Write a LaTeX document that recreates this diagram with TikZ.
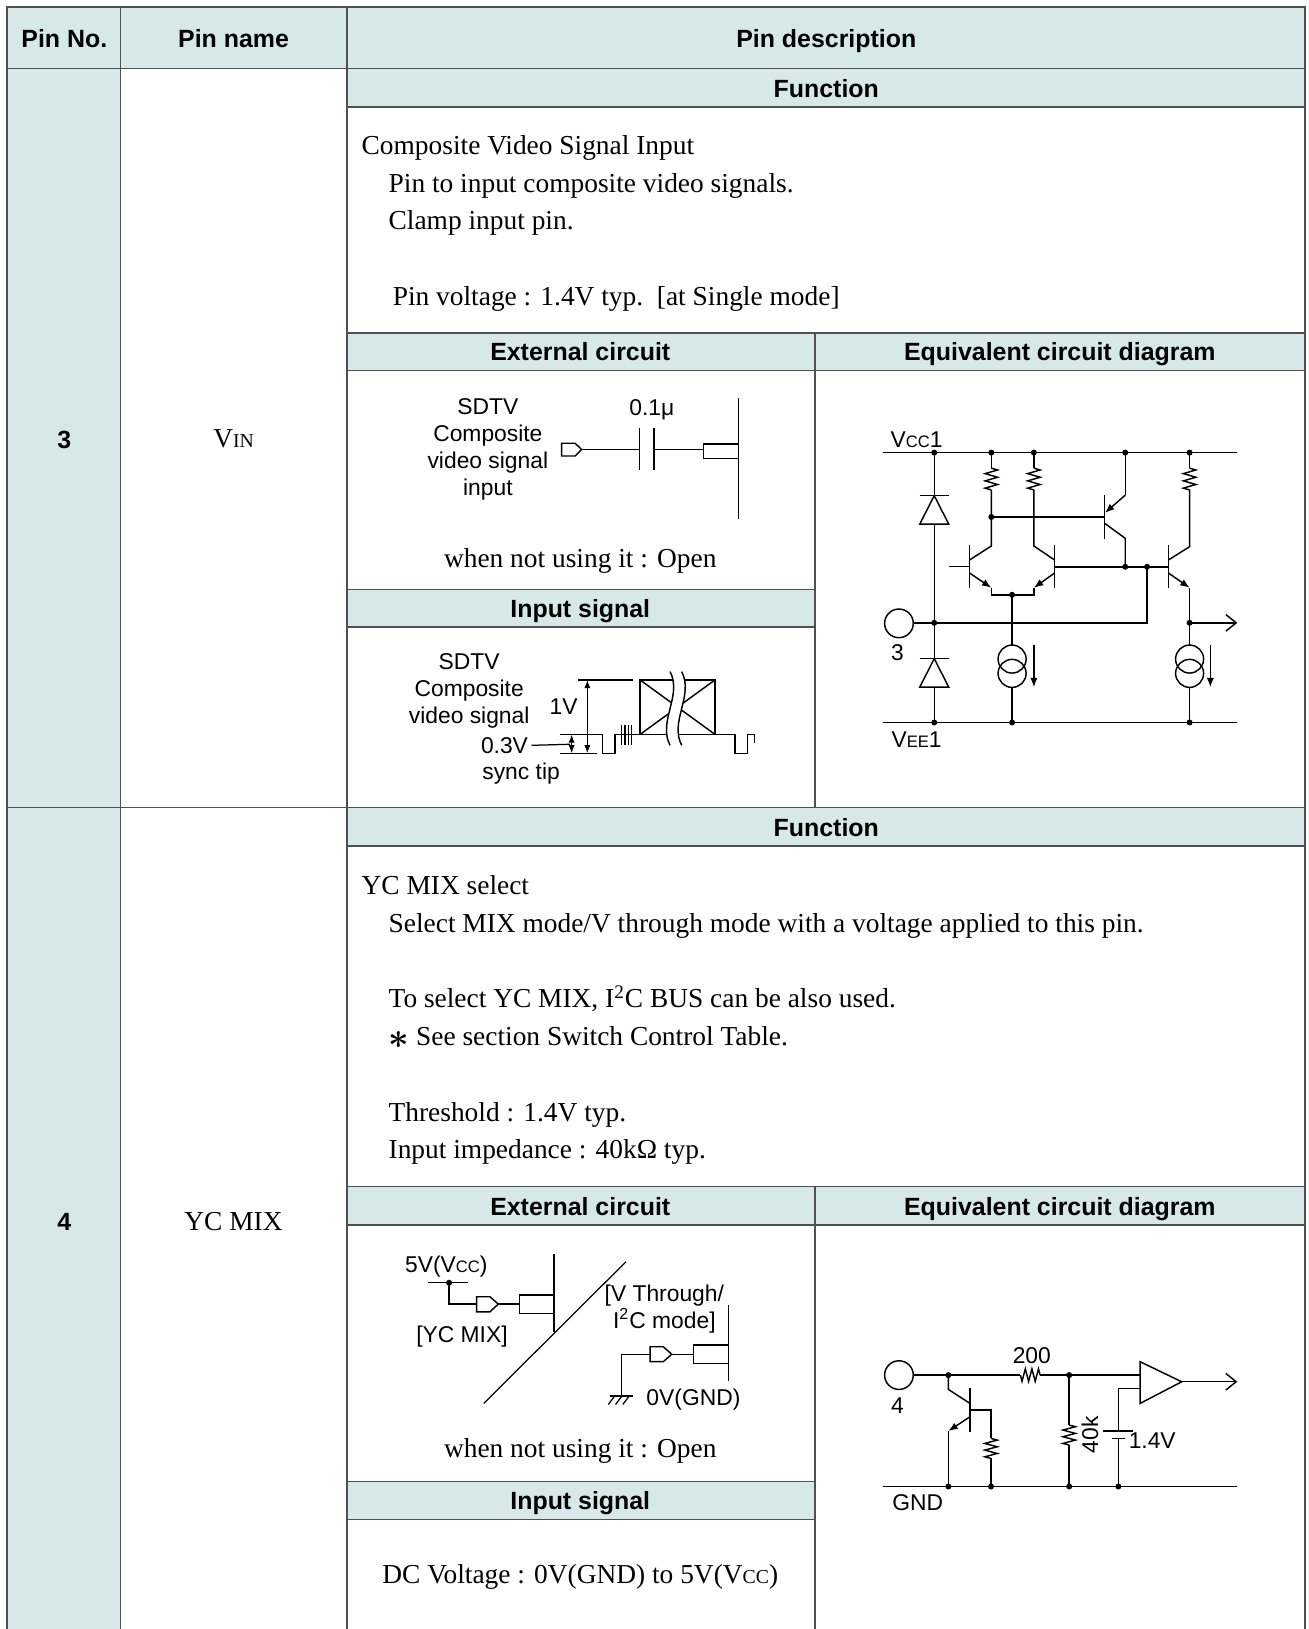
\documentclass[tikz,border=0pt]{standalone}
\usepackage{fontspec}
\setmainfont{Liberation Serif}
\setsansfont{Liberation Sans}
\usetikzlibrary{arrows.meta}
\definecolor{CellHead}{RGB}{214,232,232}
\definecolor{CellRule}{RGB}{80,80,80}
\newcommand\lowcap[2][8]{{\fontsize{#1}{#1}\selectfont #2}}
\newcommand\vres[3]{%
	\pgfmathsetmacro\rstep{(#3-#2)/12}
	\draw[wire] (#1,#2) -- ++(6,\rstep) -- ++(-12,2*\rstep) -- ++(12,2*\rstep) -- ++(-12,2*\rstep) -- ++(12,2*\rstep) -- ++(-12,2*\rstep) -- ++(6,\rstep);}
\newcommand\hres[3]{%
	\pgfmathsetmacro\rstep{(#3-#2)/12}
	\draw[wire] (#2,#1) -- ++(\rstep,6) -- ++(2*\rstep,-12) -- ++(2*\rstep,12) -- ++(2*\rstep,-12) -- ++(2*\rstep,12) -- ++(2*\rstep,-12) -- ++(\rstep,6);}
\tikzset{
	rule/.style={draw=CellRule,line width=0.75pt},
	headtxt/.style={font=\sffamily\bfseries\fontsize{12}{14}\selectfont,text height=8.6pt,text depth=0pt},
	bodytxt/.style={font=\fontsize{13.2}{16}\selectfont,anchor=base west,inner sep=0pt},
	midtxt/.style={font=\fontsize{13.2}{16}\selectfont,inner sep=0pt},
	lbl/.style={font=\sffamily\fontsize{11}{13}\selectfont,inner sep=0pt},
	wire/.style={line width=0.7pt},
	emit/.style={wire,-{Latex[length=4.5pt,width=3.5pt]}},
	dimarrow/.style={line width=0.6pt,{Latex[length=4pt,width=3pt]}-{Latex[length=4pt,width=3pt]}},
	outarrow/.style={wire,-{Straight Barb[length=5pt,width=8pt]}},
}

\begin{document}
\begin{tikzpicture}[x=0.5pt,y=-0.5pt]
	\useasboundingbox (0,0) rectangle (1261,1569.3);
	\fill[CellHead] (6.5,7) rectangle (1257,66);
	\fill[CellHead] (6.5,66) rectangle (116,1569.3);
	\fill[CellHead] (334.5,66) rectangle (1257,103);
	\fill[CellHead] (334.5,321) rectangle (1257,357);
	\fill[CellHead] (334.5,568) rectangle (785,604);
	\fill[CellHead] (334.5,778) rectangle (1257,815);
	\fill[CellHead] (334.5,1143) rectangle (1257,1180);
	\fill[CellHead] (334.5,1427) rectangle (785,1464);

	\draw[rule] (6.5,1569.3) -- (6.5,7) -- (1257,7) -- (1257,1569.3);
	\draw[rule] (116,7) -- (116,1569.3);
	\draw[rule] (334.5,7) -- (334.5,1569.3);
	\draw[rule] (785,321) -- (785,778);
	\draw[rule] (785,1143) -- (785,1569.3);
	\draw[rule] (6.5,66) -- (1257,66);
	\draw[rule] (6.5,778) -- (1257,778);
	\foreach \y in {103,321,357,815,1143,1180}
		\draw[rule] (334.5,\y) -- (1257,\y);
	\foreach \y in {568,604,1427,1464}
		\draw[rule] (334.5,\y) -- (785,\y);

	\node[headtxt] (hdNo) at (62,37) {Pin No.};
	\node[headtxt] (hdName) at (225,37) {Pin name};
	\node[headtxt] (hdDesc) at (796,37) {Pin description};
	\node[headtxt] (fnHeadA) at (796,85) {Function};
	\node[headtxt] (extHeadA) at (559,339) {External circuit};
	\node[headtxt] (eqHeadA) at (1021,339) {Equivalent circuit diagram};
	\node[headtxt] (inHeadA) at (559,586) {Input signal};
	\node[headtxt] (fnHeadB) at (796,797) {Function};
	\node[headtxt] (extHeadB) at (559,1162) {External circuit};
	\node[headtxt] (eqHeadB) at (1021,1162) {Equivalent circuit diagram};
	\node[headtxt] (inHeadB) at (559,1446) {Input signal};
	\node[headtxt] (pinNoA) at (62,423) {3};
	\node[headtxt] (pinNoB) at (62,1177) {4};

	\node[midtxt] (pinNameA) at (225,423) {V\lowcap[9.5]{IN}};
	\node[midtxt] (pinNameB) at (225,1177) {YC MIX};
	\node[bodytxt] (fnA1) at (348,149) {Composite Video Signal Input};
	\node[bodytxt] (fnA2) at (374,185) {Pin to input composite video signals.};
	\node[bodytxt] (fnA3) at (374,221) {Clamp input pin.};
	\node[bodytxt] (fnA4) at (378,294) {Pin voltage : 1.4V typ.\ \ [at Single mode]};
	\node[bodytxt] (fnB1) at (348,862) {YC MIX select};
	\node[bodytxt] (fnB2) at (374,898) {Select MIX mode/V through mode with a voltage applied to this pin.};
	\node[bodytxt] (fnB3) at (374,971) {To select YC MIX, I\textsuperscript{2}C BUS can be also used.};
	\node[bodytxt] (fnB4) at (374,1007) {\raisebox{-1.5pt}{\fontsize{17}{17}\selectfont\boldmath$\ast$}\ See section Switch Control Table.};
	\node[bodytxt] (fnB5) at (374,1080) {Threshold : 1.4V typ.};
	\node[bodytxt] (fnB6) at (374,1116) {Input impedance : 40kΩ typ.};
	\node[midtxt] (openA) at (559,540) {when not using it : Open};
	\node[midtxt] (openB) at (559,1398) {when not using it : Open};
	\node[midtxt] (dcVolt) at (559,1519) {DC Voltage : 0V(GND) to 5V(V\lowcap[9.5]{CC})};

	\node[lbl,align=center] (sdtvA) at (470,433) {SDTV\\Composite\\video signal\\input};
	\node[lbl] (capVal) at (628,395) {0.1μ};
	\draw[wire] (541,427) -- (554,427) -- (560.4,433) -- (554,439.3) -- (541,439.3) -- cycle;
	\draw[wire] (560.4,433) -- (616,433);
	\draw[wire] (616,412.6) -- (616,452.8);
	\draw[wire] (630,412.6) -- (630,452.8);
	\draw[wire] (630,433) -- (677.6,433);
	\draw[wire] (677.6,427.7) rectangle (711.3,441.6);
	\draw[wire] (711.3,383.7) -- (711.3,500);

	\node[lbl,align=center] (sdtvB) at (452,666) {SDTV\\Composite\\video signal};
	\node[lbl] (blackLvl) at (486,718) {0.3V};
	\node[lbl] (syncTip) at (502,745) {sync tip};
	\node[lbl] (ampl) at (543,681) {1V};
	\draw[wire] (556.5,655) -- (610,655);
	\draw[wire] (539.5,725.7) -- (575,725.7);
	\draw[dimarrow] (565.8,655) -- (565.8,725.7);
	\draw[dimarrow] (550.7,707.5) -- (550.7,725.7);
	\draw[line width=0.6pt] (blackLvl.east) ++(3,0) -- (549,717);
	\draw[wire] (539.5,707.5) -- (580.6,707.5) -- (580.6,725.7) -- (592.5,725.7) -- (592.5,707.5) -- (708,707.5) -- (708,725.7) -- (720,725.7) -- (720,707.5) -- (727,707.5) -- (727,716);
	\foreach \x in {598.9,602.1,605.3,608.5}
		\draw[line width=0.6pt] (\x,698.5) -- (\x,717.7);
	\draw[wire] (616.6,655) rectangle (688.8,707.5);
	\draw[wire] (616.6,655) -- (688.8,707.5);
	\draw[wire] (616.6,707.5) -- (688.8,655);
	\fill[white] (645.5,647) .. controls (657.5,670) and (633.5,695) .. (645.5,718) -- (656.7,718) .. controls (644.7,695) and (668.7,670) .. (656.7,647) -- cycle;
	\draw[wire] (645.5,647) .. controls (657.5,670) and (633.5,695) .. (645.5,718);
	\draw[wire] (656.7,647) .. controls (668.7,670) and (644.7,695) .. (656.7,718);

	\node[lbl] (vccA) at (883,424) {V\lowcap{CC}1};
	\node[lbl] (veeA) at (883,713) {V\lowcap{EE}1};
	\node[lbl] (pinLblA) at (864.5,629) {3};
	\draw[wire] (851,436) -- (1192,436);
	\draw[wire] (851,696) -- (1192,696);
	\draw[wire] (866,600.5) circle (13.8);
	\draw[wire] (900,436) -- (900,477.5);
	\draw[wire] (886,477.5) -- (914,477.5);
	\draw[wire] (900,477.5) -- (886,505) -- (914,505) -- cycle;
	\draw[wire] (900,505) -- (900,634.5);
	\draw[wire] (886,634.5) -- (914,634.5);
	\draw[wire] (900,634.5) -- (886,662) -- (914,662) -- cycle;
	\draw[wire] (900,662) -- (900,696);
	\draw[wire] (879.8,600) -- (1105,600) -- (1105,546);
	\draw[wire] (955,436) -- (955,451);
	\vres{955}{451}{472}
	\draw[wire] (955,472) -- (955,526) -- (934,539.5);
	\draw[wire] (996,436) -- (996,451);
	\vres{996}{451}{472}
	\draw[wire] (996,472) -- (996,526) -- (1016,539.5);
	\draw[wire] (1146,436) -- (1146,451);
	\vres{1146}{451}{472}
	\draw[wire] (1146,472) -- (1146,526.6) -- (1125.6,539.5);
	\draw[wire] (934,525) -- (934,566);
	\draw[wire] (1016,525) -- (1016,566);
	\draw[wire] (1125.6,525) -- (1125.6,566);
	\draw[wire] (1064,477) -- (1064,519);
	\draw[wire] (914,545.5) -- (934,545.5);
	\draw[emit] (934,552) -- (955,566.2);
	\draw[emit] (1016,552) -- (996,566.2);
	\draw[emit] (1125.6,552) -- (1146,566.2);
	\draw[wire] (955,566) -- (955,573) -- (996,573) -- (996,566);
	\draw[wire] (955,498) -- (1064,498);
	\draw[wire] (1084,436) -- (1084,477);
	\draw[emit] (1084,477) -- (1064.5,494);
	\draw[wire] (1064,504) -- (1084,518.6) -- (1084,546);
	\draw[wire] (1016,546) -- (1125.6,546);
	\draw[wire] (1146,566) -- (1146,621.4);
	\draw[outarrow] (1146,600) -- (1192,600);
	\draw[wire] (975,573) -- (975,621.4);
	\foreach \x in {975,1146} {
		\draw[wire] (\x,634.9) circle (13.5);
		\draw[wire] (\x,648.7) circle (13.5);
		\draw[wire] (\x,662.2) -- (\x,696);
	}
	\draw[emit] (996,621) -- (996,662);
	\draw[emit] (1166,621) -- (1166,662);
	\foreach \x in {900,955,996,1084,1146}
		\fill (\x,436) circle (2.9);
	\foreach \x in {900,975,1146}
		\fill (\x,696) circle (2.9);
	\fill (955,498) circle (2.9);
	\fill (975,573) circle (2.9);
	\fill (900,600) circle (2.9);
	\fill (1146,600) circle (2.9);
	\fill (1084,546) circle (2.9);
	\fill (1105,546) circle (2.9);

	\node[lbl] (vccB) at (430,1220) {5V(V\lowcap{CC})};
	\node[lbl] (modeYC) at (445,1288) {[YC MIX]};
	\node[lbl,align=center,font=\sffamily\fontsize{11}{11.5}\selectfont] (modeVT) at (640,1261) {[V Through/\\I\textsuperscript{2}C mode]};
	\node[lbl] (gndExt) at (668,1348) {0V(GND)};
	\draw[wire] (412.6,1235.7) -- (451.2,1235.7);
	\fill (432.6,1235.7) circle (2.9);
	\draw[wire] (432.6,1235.7) -- (432.6,1256.3) -- (459.2,1256.3);
	\draw[wire] (459.2,1249.2) -- (472,1249.2) -- (480,1256.3) -- (472,1263.7) -- (459.2,1263.7) -- cycle;
	\draw[wire] (480,1256.3) -- (500.3,1256.3);
	\draw[wire] (500.3,1247.6) rectangle (533.7,1265.3);
	\draw[wire] (533.7,1208.4) -- (533.7,1283);
	\draw[line width=0.6pt] (603,1215.5) -- (466,1352);
	\draw[wire] (701.7,1257) -- (701.7,1330);
	\draw[wire] (668,1295.8) rectangle (701.7,1313.4);
	\draw[wire] (647.1,1304.6) -- (668,1304.6);
	\draw[wire] (626.2,1297.4) -- (639,1297.4) -- (647.1,1304.6) -- (639,1311.8) -- (626.2,1311.8) -- cycle;
	\draw[wire] (598.9,1345) -- (598.9,1304.6) -- (626.2,1304.6);
	\draw[wire] (588,1345) -- (610,1345);
	\foreach \x in {592,599,606}
		\draw[line width=0.6pt] (\x,1345) -- (\x-6,1353);

	\node[lbl] (pinLblB) at (864.5,1354) {4};
	\node[lbl] (r200) at (994,1306) {200};
	\node[lbl,rotate=90] (r40k) at (1050,1382) {40k};
	\node[lbl] (refV) at (1110,1388) {1.4V};
	\node[lbl] (gndEq) at (884,1448) {GND};
	\draw[wire] (866,1324.7) circle (13.8);
	\draw[wire] (879.8,1324.7) -- (983,1324.7);
	\hres{1324.7}{983}{1002}
	\draw[wire] (1002,1324.7) -- (1098.3,1324.7);
	\draw[wire] (851,1432) -- (1192,1432);
	\draw[wire] (913.6,1324.7) -- (913.6,1338.5) -- (934.5,1352);
	\draw[wire] (934.5,1337.5) -- (934.5,1379.3);
	\draw[wire] (934.5,1358.4) -- (954.7,1358.4) -- (954.7,1385.7);
	\vres{954.7}{1385.7}{1405}
	\draw[wire] (954.7,1405) -- (954.7,1432);
	\draw[emit] (934.5,1364.8) -- (913.6,1378.6);
	\draw[wire] (913.6,1378.6) -- (913.6,1432);
	\draw[wire] (1030,1324.7) -- (1030,1372.8);
	\vres{1030}{1372.8}{1392.1}
	\draw[wire] (1030,1392.1) -- (1030,1432);
	\draw[wire] (1098.3,1337.5) -- (1077.4,1337.5) -- (1077.4,1378.6);
	\draw[wire] (1063,1378.6) -- (1091.8,1378.6);
	\draw[wire] (1071,1385.7) -- (1083.8,1385.7);
	\draw[wire] (1077.4,1385.7) -- (1077.4,1432);
	\draw[wire] (1098.3,1311.8) -- (1138.4,1331.1) -- (1098.3,1352) -- cycle;
	\draw[outarrow] (1138.4,1331.1) -- (1192,1331.1);
	\foreach \x in {913.6,1030}
		\fill (\x,1324.7) circle (2.9);
	\foreach \x in {913.6,954.7,1030,1077.4}
		\fill (\x,1432) circle (2.9);
\end{tikzpicture}
\end{document}
